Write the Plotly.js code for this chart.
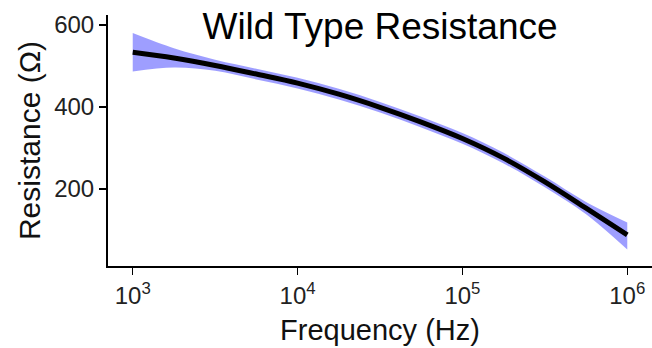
<!DOCTYPE html>
<html>
<head>
<meta charset="utf-8">
<script src="https://cdn.plot.ly/plotly-3.0.1.min.js"></script>
<style>
html,body{margin:0;padding:0;background:#fff;}
#chart{width:652px;height:348px;}
</style>
</head>
<body>
<div id="chart"></div>
<script>
// Frequency (Hz), sampled every quarter decade
const frequency = [1000, 1778, 3162, 5623, 10000, 17783, 31623, 56234, 100000, 177828, 316228, 562341, 1000000];
// Smoothed resistance (Ohm)
const resistance = [533, 519, 501, 480, 458, 431, 399, 363, 323, 275, 217, 153, 88];
// Confidence band
const upperBand = [580, 543, 515, 493, 471, 444, 412, 376, 336, 288, 230, 168, 118];
const lowerBand = [486, 496, 488, 467, 445, 418, 386, 350, 310, 262, 204, 138, 52];
// Axis ticks
const xTickVals = [1000, 10000, 100000, 1000000];
const xTickText = ['10<sup>3</sup>', '10<sup>4</sup>', '10<sup>5</sup>', '10<sup>6</sup>'];
const yTickVals = [200, 400, 600];

const FONT = 'Liberation Sans, Arial, sans-serif';
const bandColor = 'rgba(0,0,255,0.38)';

const traces = [
  {x: frequency, y: lowerBand, type: 'scatter', mode: 'lines',
   line: {width: 0, shape: 'spline', color: bandColor}, hoverinfo: 'skip', showlegend: false},
  {x: frequency, y: upperBand, type: 'scatter', mode: 'lines', fill: 'tonexty',
   fillcolor: bandColor, line: {width: 0, shape: 'spline', color: bandColor}, hoverinfo: 'skip', showlegend: false},
  {x: frequency, y: resistance, type: 'scatter', mode: 'lines',
   line: {color: '#000000', width: 5, shape: 'spline'}, showlegend: false}
];

const layout = {
  width: 652, height: 348,
  margin: {l: 108, r: 0, t: 15, b: 82, pad: 0},
  paper_bgcolor: '#ffffff', plot_bgcolor: '#ffffff',
  font: {family: FONT, color: '#1a1a1a'},
  title: {text: 'Wild Type Resistance', font: {family: FONT, size: 37, color: '#000000'},
          xref: 'paper', x: 0.5, xanchor: 'center', yref: 'container', y: 0.925, yanchor: 'middle'},
  xaxis: {
    type: 'log', range: [Math.log10(1000) - 0.15, Math.log10(1000000) + 0.15],
    tickmode: 'array', tickvals: xTickVals, ticktext: xTickText,
    ticks: 'outside', ticklen: 7, tickwidth: 1.5, tickcolor: '#000',
    showline: true, linecolor: '#000', linewidth: 2, showgrid: false, zeroline: false,
    tickfont: {family: FONT, size: 24, color: '#222'},
    title: {text: 'Frequency (Hz)', font: {family: FONT, size: 29, color: '#111'}, standoff: 12}
  },
  yaxis: {
    range: [12, 624],
    tickmode: 'array', tickvals: yTickVals,
    ticks: 'outside', ticklen: 7, tickwidth: 1.5, tickcolor: '#000',
    showline: true, linecolor: '#000', linewidth: 2, showgrid: false, zeroline: false,
    tickfont: {family: FONT, size: 24, color: '#222'},
    title: {text: 'Resistance (Ω)', font: {family: FONT, size: 30, color: '#111'}, standoff: 5}
  }
};

Plotly.newPlot('chart', traces, layout, {displayModeBar: false, staticPlot: true});
</script>
</body>
</html>
